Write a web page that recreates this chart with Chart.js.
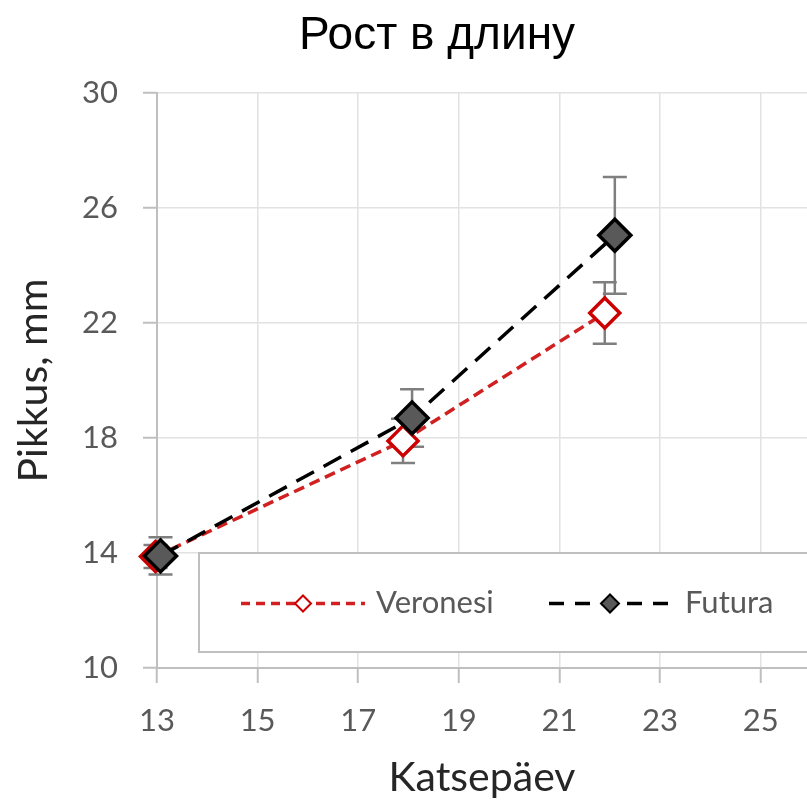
<!DOCTYPE html>
<html>
<head>
<meta charset="utf-8">
<script src="https://cdn.jsdelivr.net/npm/chart.js@4/dist/chart.umd.min.js"></script>
<style>
  html, body { margin: 0; padding: 0; background: #fff; }
  #wrap { width: 807px; height: 805px; }
</style>
</head>
<body>
<div id="wrap"><canvas id="c" width="807" height="805"></canvas></div>
<script>
// Measurement days and mean length (mm) with error bar half-widths
const veronesiDays   = [12.97, 17.89, 21.9];
const veronesiLength = [13.88, 17.9, 22.35];
const veronesiError  = [0.4, 0.77, 1.07];

const futuraDays   = [13.07, 18.07, 22.1];
const futuraLength = [13.9, 18.7, 25.05];
const futuraError  = [0.65, 1.0, 2.03];

const xTicks = [13, 15, 17, 19, 21, 23, 25];
const yTicks = [10, 14, 18, 22, 26, 30];

const seriesNames = ['Veronesi', 'Futura'];
const chartTitle = 'Рост в длину';

const toPoints = (xs, ys) => xs.map((x, i) => ({ x: x, y: ys[i] }));

const RED = '#d02020';
const GRAY_TEXT = '#595959';
const AXIS = '#bfbfbf';

// Title, centred a little right of the canvas middle
const titleText = {
  id: 'titleText',
  afterDraw(chart) {
    const { ctx } = chart;
    ctx.save();
    ctx.fillStyle = '#000';
    ctx.font = '46px "Liberation Sans"';
    ctx.textAlign = 'center';
    ctx.textBaseline = 'middle';
    ctx.fillText(chartTitle, 437, 36);
    ctx.restore();
  }
};

// Vertical error bars with caps, drawn beneath the markers
const errorBars = {
  id: 'errorBars',
  beforeDatasetsDraw(chart) {
    const { ctx, scales: { x, y } } = chart;
    ctx.save();
    ctx.strokeStyle = '#7f7f7f';
    ctx.lineWidth = 2.5;
    chart.data.datasets.forEach(ds => {
      ds.data.forEach((p, i) => {
        const e = ds.errors[i];
        const px = x.getPixelForValue(p.x);
        const top = y.getPixelForValue(p.y + e);
        const bot = y.getPixelForValue(p.y - e);
        ctx.beginPath();
        ctx.moveTo(px, top); ctx.lineTo(px, bot);
        ctx.moveTo(px - 12, top); ctx.lineTo(px + 12, top);
        ctx.moveTo(px - 12, bot); ctx.lineTo(px + 12, bot);
        ctx.stroke();
      });
    });
    ctx.restore();
  }
};

function diamond(ctx, cx, cy, r, fill, stroke, lw) {
  ctx.beginPath();
  ctx.moveTo(cx, cy - r);
  ctx.lineTo(cx + r, cy);
  ctx.lineTo(cx, cy + r);
  ctx.lineTo(cx - r, cy);
  ctx.closePath();
  ctx.fillStyle = fill;
  ctx.fill();
  ctx.lineWidth = lw;
  ctx.strokeStyle = stroke;
  ctx.stroke();
}

// Boxed legend placed inside the plot area
const boxLegend = {
  id: 'boxLegend',
  afterDraw(chart) {
    const { ctx, chartArea: a } = chart;
    const left = a.left + 42, top = a.bottom - 115, bottom = a.bottom - 16;
    const right = a.right + 6;
    const cy = (top + bottom) / 2 + 1;
    const byName = n => chart.data.datasets.find(d => d.label === n);
    const ver = byName(seriesNames[0]);
    const fut = byName(seriesNames[1]);
    ctx.save();
    ctx.fillStyle = '#fff';
    ctx.fillRect(left, top, right - left, bottom - top);
    ctx.strokeStyle = AXIS;
    ctx.lineWidth = 2;
    ctx.strokeRect(left, top, right - left, bottom - top);

    // Veronesi sample
    ctx.setLineDash([9, 6]);
    ctx.lineWidth = 3.5;
    ctx.strokeStyle = ver.borderColor;
    ctx.beginPath(); ctx.moveTo(left + 42, cy); ctx.lineTo(left + 166, cy); ctx.stroke();
    ctx.setLineDash([]);
    diamond(ctx, left + 104, cy, 8, '#fff', ver.pointBorderColor, 2);
    // Futura sample
    ctx.setLineDash([15, 11]);
    ctx.lineWidth = 3.5;
    ctx.strokeStyle = fut.borderColor;
    ctx.beginPath(); ctx.moveTo(left + 350, cy); ctx.lineTo(left + 472, cy); ctx.stroke();
    ctx.setLineDash([]);
    diamond(ctx, left + 411, cy, 9, fut.pointBackgroundColor, fut.pointBorderColor, 2);

    ctx.fillStyle = GRAY_TEXT;
    ctx.font = '31px Lato';
    ctx.textBaseline = 'middle';
    ctx.textAlign = 'left';
    ctx.fillText(ver.label, left + 177, cy - 1);
    ctx.fillText(fut.label, left + 486, cy - 1);
    ctx.restore();
  }
};

new Chart(document.getElementById('c'), {
  type: 'line',
  data: {
    datasets: [
      {
        label: seriesNames[1],
        data: toPoints(futuraDays, futuraLength),
        errors: futuraError,
        borderColor: '#000',
        borderWidth: 3.5,
        borderDash: [20, 11],
        tension: 0,
        pointStyle: 'rectRot',
        pointRadius: 16,
        pointBackgroundColor: '#595959',
        pointBorderColor: '#000',
        pointBorderWidth: 3.5,
        clip: false,
        order: 0
      },
      {
        label: seriesNames[0],
        data: toPoints(veronesiDays, veronesiLength),
        errors: veronesiError,
        borderColor: RED,
        borderWidth: 3.5,
        borderDash: [11, 6],
        tension: 0,
        pointStyle: 'rectRot',
        pointRadius: 15,
        pointBackgroundColor: '#fff',
        pointBorderColor: '#cc0000',
        pointBorderWidth: 3.5,
        clip: false,
        order: 1
      }
    ]
  },
  options: {
    responsive: false,
    animation: false,
    devicePixelRatio: 1,
    layout: { autoPadding: false, padding: { top: 93, left: 0, right: 0, bottom: 0 } },
    plugins: {
      legend: { display: false },
      tooltip: { enabled: false },
      title: { display: false }
    },
    scales: {
      x: {
        type: 'linear',
        min: 13,
        max: 25.92,
        afterBuildTicks: s => { s.ticks = xTicks.map(v => ({ value: v })); },
        afterFit: s => { s.height = 137; s.paddingRight = 0; },
        grid: { color: '#e2e2e2', lineWidth: 1.5, tickLength: 15, tickColor: AXIS, tickWidth: 2 },
        border: { color: AXIS, width: 2 },
        ticks: { color: GRAY_TEXT, font: { family: 'Lato', size: 31 }, padding: 19, maxRotation: 0, autoSkip: false },
        title: { display: true, text: 'Katsepäev', color: '#262626', font: { family: 'Lato', size: 41 }, padding: { top: 0, bottom: 3 } }
      },
      y: {
        min: 10,
        max: 30,
        afterBuildTicks: s => { s.ticks = yTicks.map(v => ({ value: v })); },
        afterFit: s => { s.width = 157; },
        grid: { color: '#e2e2e2', lineWidth: 1.5, tickLength: 14, tickColor: AXIS, tickWidth: 2 },
        border: { color: AXIS, width: 2 },
        ticks: { color: GRAY_TEXT, font: { family: 'Lato', size: 31 }, padding: 25 },
        title: { display: true, text: 'Pikkus, mm', color: '#262626', font: { family: 'Lato', size: 41 }, padding: { top: 9, bottom: 0 } }
      }
    }
  },
  plugins: [errorBars, boxLegend, titleText]
});
</script>
</body>
</html>
